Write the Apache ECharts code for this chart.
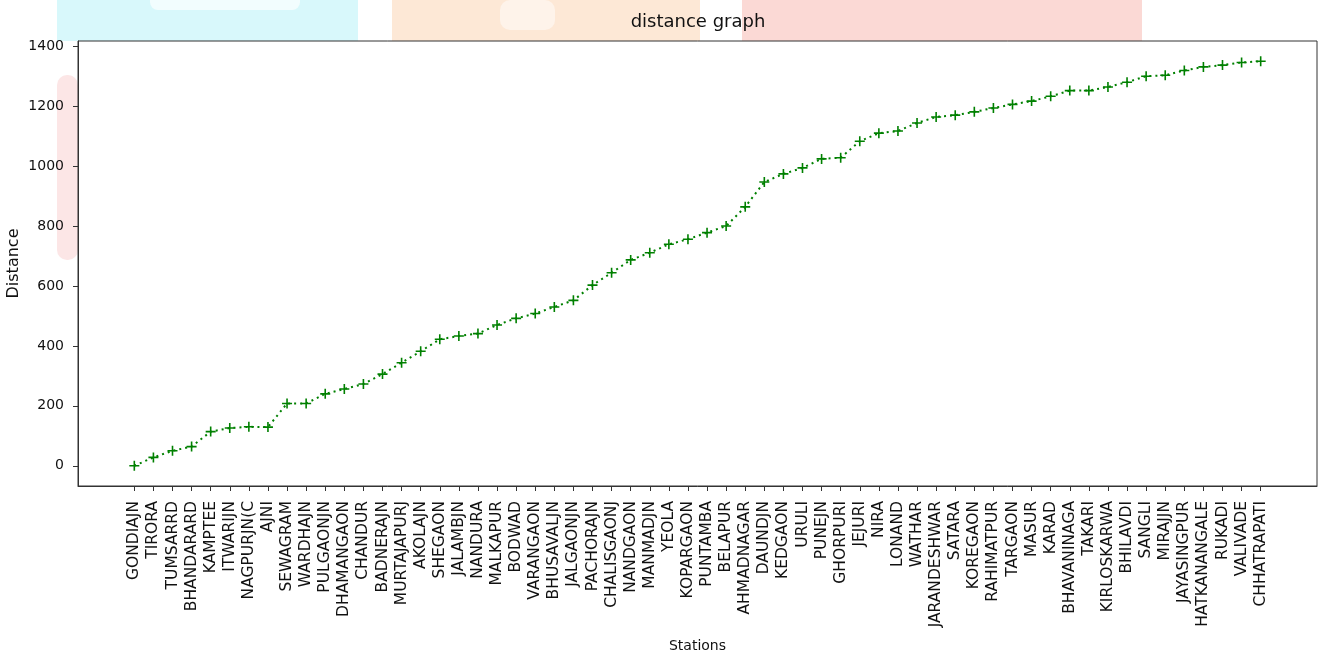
<!DOCTYPE html>
<html>
<head>
<meta charset="utf-8">
<script src="https://cdn.jsdelivr.net/npm/echarts@6/dist/echarts.min.js"></script>
<style>
html,body{margin:0;padding:0;background:#fff;}
#chart{width:1322px;height:653px;}
</style>
</head>
<body>
<div id="chart"></div>
<script>
const stations = ["GONDIAJN","TIRORA","TUMSARRD","BHANDARARD","KAMPTEE","ITWARIJN","NAGPURJN(C","AJNI","SEWAGRAM","WARDHAJN","PULGAONJN","DHAMANGAON","CHANDUR","BADNERAJN","MURTAJAPURJ","AKOLAJN","SHEGAON","JALAMBJN","NANDURA","MALKAPUR","BODWAD","VARANGAON","BHUSAVALJN","JALGAONJN","PACHORAJN","CHALISGAONJ","NANDGAON","MANMADJN","YEOLA","KOPARGAON","PUNTAMBA","BELAPUR","AHMADNAGAR","DAUNDJN","KEDGAON","URULI","PUNEJN","GHORPURI","JEJURI","NIRA","LONAND","WATHAR","JARANDESHWAR","SATARA","KOREGAON","RAHIMATPUR","TARGAON","MASUR","KARAD","BHAVANINAGA","TAKARI","KIRLOSKARWA","BHILAVDI","SANGLI","MIRAJJN","JAYASINGPUR","HATKANANGALE","RUKADI","VALIVADE","CHHATRAPATI"];
const distances = [0,28,50,64,114,126,130,129,208,208,240,256,273,306,344,382,422,433,441,470,492,508,530,552,603,644,687,711,739,756,778,800,864,947,974,994,1024,1028,1083,1110,1117,1144,1164,1170,1181,1194,1206,1217,1233,1252,1252,1264,1280,1300,1303,1319,1331,1337,1346,1350];
const yTicks = [0,200,400,600,800,1000,1200,1400];

const xIdx = stations.map((s,i)=>i);
const n = stations.length;
const xMargin = (n-1)*0.05;
const yMax = Math.max(...distances), yMin = Math.min(...distances);
const yMargin = (yMax-yMin)*0.05;

const chart = echarts.init(document.getElementById('chart'), null, {renderer:'canvas'});
const FONT = "'DejaVu Sans'";
chart.setOption({
  animation:false,
  backgroundColor:'#fff',
  graphic:[
    {type:'rect', z:-5, shape:{x:57,y:0,width:301,height:41}, style:{fill:'#d8f8fb'}},
    {type:'rect', z:-4, shape:{x:150,y:-10,width:150,height:20,r:8}, style:{fill:'#f2fdfe'}},
    {type:'rect', z:-5, shape:{x:392,y:0,width:308,height:41}, style:{fill:'#fde8d6'}},
    {type:'rect', z:-4, shape:{x:500,y:0,width:55,height:30,r:10}, style:{fill:'#fef3ea'}},
    {type:'rect', z:-5, shape:{x:742,y:0,width:400,height:41}, style:{fill:'#fbd9d5'}},
    {type:'rect', z:-5, shape:{x:57,y:75,width:21,height:185,r:10}, style:{fill:'#fce6e6'}}
  ],
  title:{
    text:'distance graph',
    left:698, top:13, textAlign:'center', padding:0,
    textStyle:{fontFamily:FONT, fontSize:18, fontWeight:'normal', color:'#111'}
  },
  grid:{left:78, right:5, top:41, bottom:167, show:true, backgroundColor:'#fff', borderColor:'#333', borderWidth:1, containLabel:false, outerBoundsMode:'none'},
  xAxis:{
    type:'value',
    min:-xMargin, max:(n-1)+xMargin,
    name:'Stations', nameLocation:'middle', nameGap:153,
    nameTextStyle:{fontFamily:FONT, fontSize:14, color:'#111'},
    axisLine:{show:true, onZero:false, lineStyle:{color:'#333', width:1}},
    axisTick:{show:true, length:5, customValues:xIdx, lineStyle:{color:'#333'}},
    axisLabel:{show:true, rotate:90, margin:15, customValues:xIdx,
      fontFamily:FONT, fontSize:15.5, color:'#111',
      formatter:(v)=>stations[Math.round(v)] ?? ''},
    splitLine:{show:false}
  },
  yAxis:{
    type:'value',
    min:yMin-yMargin, max:yMax+yMargin,
    name:'Distance', nameLocation:'middle', nameGap:56, nameRotate:90, nameMoveOverlap:false,
    nameTextStyle:{fontFamily:FONT, fontSize:16, color:'#111'},
    axisLine:{show:true, onZero:false, lineStyle:{color:'#333', width:1}},
    axisTick:{show:true, length:5, customValues:yTicks, lineStyle:{color:'#333'}},
    axisLabel:{show:true, margin:14, customValues:yTicks,
      fontFamily:FONT, fontSize:14, color:'#111',
      formatter:(v)=>String(Math.round(v))},
    splitLine:{show:false}
  },
  series:[{
    type:'line',
    data:distances.map((d,i)=>[i,d]),
    symbol:'path://M4.2,0h1.6v4.2h4.2v1.6h-4.2v4.2h-1.6v-4.2h-4.2v-1.6h4.2z',
    symbolSize:10,
    showAllSymbol:true,
    itemStyle:{color:'#008000'},
    lineStyle:{color:'#008000', width:2, type:[2,4], cap:'butt'},
    emphasis:{disabled:true}
  }]
});
</script>
</body>
</html>
